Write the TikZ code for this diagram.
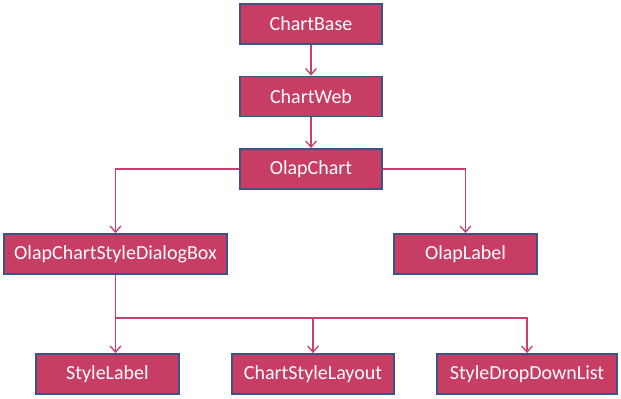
\documentclass[tikz,border=0pt]{standalone}
\usepackage{fontspec}
\setmainfont{Carlito}
\usetikzlibrary{arrows.meta}

\definecolor{boxfill}{HTML}{C73D63}
\definecolor{boxline}{HTML}{3A5585}
\definecolor{linkcol}{HTML}{C8406A}

\tikzset{
  classbox/.style={draw=boxline, fill=boxfill, line width=1.4pt, text=white,
    minimum height=30pt, inner sep=0pt,
    font=\fontsize{15}{18}\selectfont},
  link/.style={draw=linkcol, line width=1pt},
  linkarrow/.style={link, -{Straight Barb[length=4.5pt,width=8pt]}}
}

\begin{document}
\begin{tikzpicture}[x=0.75pt,y=-0.75pt]
    \useasboundingbox (0,0) rectangle (621,399);

    % Class hierarchy boxes
    \node[classbox, minimum width=106.5pt] (base)   at (311,24)    {ChartBase};
    \node[classbox, minimum width=106.5pt] (web)    at (311,96.5)  {ChartWeb};
    \node[classbox, minimum width=106.5pt] (olap)   at (311,169)   {OlapChart};
    \node[classbox, minimum width=167pt]   (dialog) at (115.5,254) {OlapChartStyleDialogBox};
    \node[classbox, minimum width=107pt]   (olbl)   at (465.5,254) {OlapLabel};
    \node[classbox, minimum width=107pt]   (slbl)   at (107.5,374) {StyleLabel};
    \node[classbox, minimum width=121.5pt] (layout) at (313,374)   {ChartStyleLayout};
    \node[classbox, minimum width=135pt]   (ddl)    at (527,374)   {StyleDropDownList};

    % Straight inheritance links
    \draw[linkarrow] (base) -- (web);
    \draw[linkarrow] (web) -- (olap);

    % OlapChart branches
    \draw[linkarrow] (olap.west) -| (dialog.north);
    \draw[linkarrow] (olap.east) -| (olbl.north);

    % Dialog box children share one bus line
    \coordinate (bus) at (dialog.south |- 0,318);
    \draw[linkarrow] (dialog.south) -- (dialog.south |- slbl.north);
    \draw[linkarrow] (bus) -| (layout.north);
    \draw[linkarrow] (bus) -| (ddl.north);
\end{tikzpicture}
\end{document}
